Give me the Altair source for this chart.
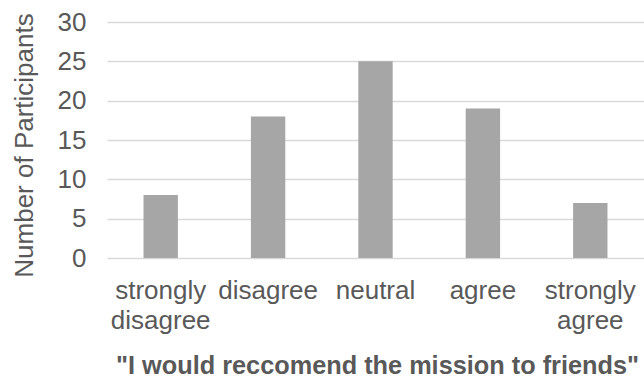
import altair as alt
import pandas as pd

categories = ["strongly disagree", "disagree", "neutral", "agree", "strongly agree"]
counts = [8, 18, 25, 19, 7]

df = pd.DataFrame({"response": categories, "count": counts})

FONT = "Liberation Sans"
TXT = "#595959"
FS = 26

chart = alt.Chart(df).mark_bar(color="#a6a6a6").encode(
    x=alt.X(
        "response:N",
        sort=categories,
        scale=alt.Scale(paddingInner=0.68, paddingOuter=0.34),
        axis=alt.Axis(
            title='"I would reccomend the mission to friends"',
            labelAngle=0,
            labelExpr="indexof(datum.label, 'strongly') == 0 ? split(datum.label, ' ') : datum.label",
            labelLineHeight=30,
            labelFontSize=FS,
            labelColor=TXT,
            labelFont=FONT,
            labelPadding=32,
            labelBaseline="middle",
            domain=False,
            ticks=False,
            grid=False,
            titleFont=FONT,
            titleFontSize=25.3,
            titleFontWeight="bold",
            titleColor=TXT,
            titleX=270,
            titleY=115,
            titleBaseline="alphabetic",
        ),
    ),
    y=alt.Y(
        "count:Q",
        scale=alt.Scale(domain=[0, 30], nice=False),
        axis=alt.Axis(
            title="Number of Participants",
            values=[0, 5, 10, 15, 20, 25, 30],
            labelFontSize=FS,
            labelColor=TXT,
            labelFont=FONT,
            labelPadding=21,
            domain=False,
            ticks=False,
            gridColor="#d9d9d9",
            gridWidth=1.5,
            titleFont=FONT,
            titleFontSize=FS,
            titleFontWeight="normal",
            titleColor=TXT,
            titleX=-75,
            titleY=123,
            titleBaseline="alphabetic",
        ),
    ),
).properties(
    width=537,
    height=236,
    autosize=alt.AutoSizeParams(type="none"),
    padding={"left": 107, "top": 22, "right": 0, "bottom": 122},
).configure_view(stroke=None)

chart.save("out.html", embed_options={"renderer": "svg", "actions": False})
